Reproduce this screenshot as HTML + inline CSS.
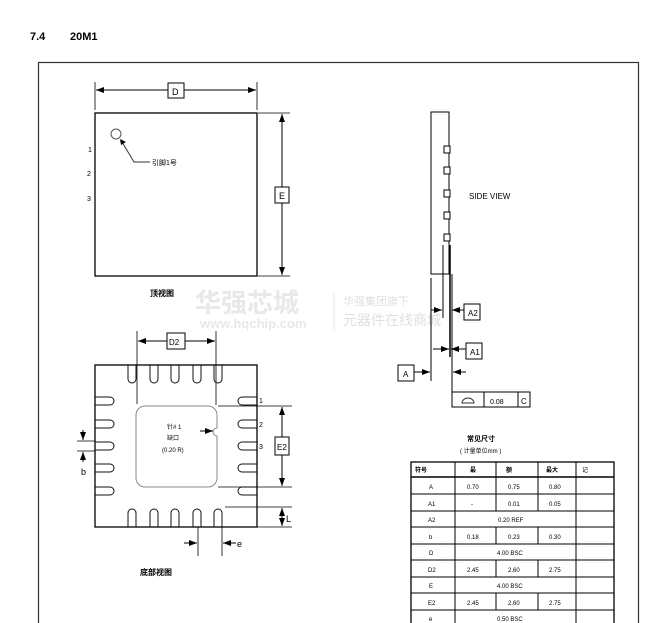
<!DOCTYPE html><html><head><meta charset="utf-8"><style>
body{margin:0;width:650px;height:623px;overflow:hidden;background:#fff;font-family:"Liberation Sans","Noto Sans CJK SC",sans-serif}
svg{position:absolute;left:0;top:0}
text{font-family:"Liberation Sans","Noto Sans CJK SC",sans-serif}
</style></head><body>
<svg width="650" height="623" viewBox="0 0 650 623">
<defs><marker id="a" markerWidth="8" markerHeight="6" refX="8" refY="3" orient="auto" markerUnits="userSpaceOnUse"><path d="M0,0L8,3L0,6z" fill="#000"/></marker></defs>
<text x="30" y="40" font-size="11" font-weight="bold">7.4</text>
<text x="70" y="40" font-size="11" font-weight="bold">20M1</text>
<rect x="38.5" y="62.5" width="600" height="580" fill="none" stroke="#333" stroke-width="1.2"/>
<text x="195" y="312" font-size="26" font-weight="bold" fill="#e8e8e8">华强芯城</text>
<text x="200" y="328" font-size="13" font-weight="bold" fill="#e8e8e8">www.hqchip.com</text>
<line x1="334" y1="293" x2="334" y2="330" stroke="#e4e4e4"/>
<text x="343" y="305" font-size="11" fill="#e0e0e0">华强集团旗下</text>
<text x="343" y="325" font-size="14" fill="#e0e0e0">元器件在线商城</text>
<g stroke="#000" fill="none" stroke-width="1">
<rect x="95" y="113" width="162" height="163" stroke-width="1.3"/>
<circle cx="116" cy="134" r="5" stroke="#555"/>
<path d="M150,162 L134,162 L122,142" stroke="#333"/>
<path d="M120,139 L126,142 L121,145 z" fill="#000" stroke="none"/>
<line x1="95" y1="82" x2="95" y2="110" stroke-width="0.8"/><line x1="257" y1="82" x2="257" y2="110" stroke-width="0.8"/>
<line x1="168" y1="90" x2="96" y2="90" marker-end="url(#a)"/><line x1="184" y1="90" x2="256" y2="90" marker-end="url(#a)"/>
<line x1="258" y1="113" x2="290" y2="113" stroke-width="0.8"/><line x1="258" y1="276" x2="290" y2="276" stroke-width="0.8"/>
<line x1="282" y1="187" x2="282" y2="114" marker-end="url(#a)"/><line x1="282" y1="203" x2="282" y2="275" marker-end="url(#a)"/>
<rect x="168" y="83" width="16" height="15" fill="#fff"/>
<rect x="275" y="187" width="14" height="16" fill="#fff"/>
<rect x="95" y="365" width="162" height="162" stroke-width="1.3"/>
<g stroke="#111">
<path d="M128,365 v14 a4,4 0 0 0 8,0 v-14"/><path d="M150,365 v14 a4,4 0 0 0 8,0 v-14"/><path d="M171,365 v14 a4,4 0 0 0 8,0 v-14"/><path d="M193,365 v14 a4,4 0 0 0 8,0 v-14"/><path d="M214,365 v14 a4,4 0 0 0 8,0 v-14"/>
<path d="M128,527 v-14 a4,4 0 0 1 8,0 v14"/><path d="M150,527 v-14 a4,4 0 0 1 8,0 v14"/><path d="M171,527 v-14 a4,4 0 0 1 8,0 v14"/><path d="M193,527 v-14 a4,4 0 0 1 8,0 v14"/><path d="M214,527 v-14 a4,4 0 0 1 8,0 v14"/>
<path d="M95,397 h15 a4,4 0 0 1 0,8 h-15"/><path d="M95,420 h15 a4,4 0 0 1 0,8 h-15"/><path d="M95,442 h15 a4,4 0 0 1 0,8 h-15"/><path d="M95,464 h15 a4,4 0 0 1 0,8 h-15"/><path d="M95,487 h15 a4,4 0 0 1 0,8 h-15"/>
<path d="M257,397 h-15 a4,4 0 0 0 0,8 h15"/><path d="M257,420 h-15 a4,4 0 0 0 0,8 h15"/><path d="M257,442 h-15 a4,4 0 0 0 0,8 h15"/><path d="M257,464 h-15 a4,4 0 0 0 0,8 h15"/><path d="M257,487 h-15 a4,4 0 0 0 0,8 h15"/>
</g>
<path d="M145,406 H208 A9,9 0 0 1 217,415 V428 A4,4 0 0 0 217,436 V478 A9,9 0 0 1 208,487 H145 A9,9 0 0 1 136,478 V415 A9,9 0 0 1 145,406 Z" stroke="#888"/>
<line x1="200" y1="431" x2="213" y2="431" marker-end="url(#a)"/>
<line x1="137" y1="331" x2="137" y2="404" stroke-width="0.8"/><line x1="216" y1="331" x2="216" y2="405" stroke-width="0.8"/>
<line x1="167" y1="341" x2="138" y2="341" marker-end="url(#a)"/><line x1="185" y1="341" x2="215" y2="341" marker-end="url(#a)"/>
<rect x="167" y="333" width="18" height="16" fill="#fff"/>
<line x1="218" y1="406" x2="292" y2="406" stroke-width="0.8"/><line x1="218" y1="487" x2="292" y2="487" stroke-width="0.8"/>
<line x1="282" y1="437" x2="282" y2="407" marker-end="url(#a)"/><line x1="282" y1="455" x2="282" y2="486" marker-end="url(#a)"/>
<rect x="275" y="437" width="14" height="18" fill="#fff"/>
<line x1="225" y1="507" x2="292" y2="507" stroke-width="0.8"/><line x1="257" y1="527" x2="292" y2="527" stroke-width="0.8"/>
<line x1="282" y1="517" x2="282" y2="508" marker-end="url(#a)"/><line x1="282" y1="517" x2="282" y2="526" marker-end="url(#a)"/>
<line x1="198" y1="527" x2="198" y2="556" stroke-width="0.8"/><line x1="222" y1="527" x2="222" y2="556" stroke-width="0.8"/>
<line x1="184" y1="543" x2="197" y2="543" marker-end="url(#a)"/><line x1="236" y1="543" x2="223" y2="543" marker-end="url(#a)"/>
<line x1="77" y1="441" x2="95" y2="441" stroke-width="0.8"/><line x1="77" y1="451" x2="95" y2="451" stroke-width="0.8"/>
<line x1="83" y1="430" x2="83" y2="440" marker-end="url(#a)"/><line x1="83" y1="462" x2="83" y2="452" marker-end="url(#a)"/>
<rect x="431" y="112" width="18" height="162"/>
<rect x="444" y="146" width="6" height="7" fill="#fff"/><rect x="444" y="167" width="6" height="7" fill="#fff"/><rect x="444" y="190" width="6" height="7" fill="#fff"/><rect x="444" y="212" width="6" height="7" fill="#fff"/><rect x="444" y="234" width="6" height="7" fill="#fff"/>
<line x1="431" y1="278" x2="431" y2="381"/>
<line x1="443" y1="245" x2="443" y2="318"/>
<line x1="450" y1="245" x2="450" y2="357" stroke-width="1.5"/>
<path d="M452,274 V407 H530"/>
<line x1="431" y1="310" x2="442" y2="310" marker-end="url(#a)"/><line x1="464" y1="310" x2="452" y2="310" marker-end="url(#a)"/>
<line x1="433" y1="349" x2="449" y2="349" marker-end="url(#a)"/><line x1="466" y1="349" x2="451" y2="349" marker-end="url(#a)"/>
<line x1="414" y1="372" x2="430" y2="372" marker-end="url(#a)"/><line x1="466" y1="372" x2="453" y2="372" marker-end="url(#a)"/>
<rect x="464" y="304" width="16" height="16" fill="#fff"/>
<rect x="466" y="343" width="16" height="16" fill="#fff"/>
<rect x="398" y="365" width="16" height="16" fill="#fff"/>
<rect x="452" y="392" width="78" height="15"/><line x1="484" y1="392" x2="484" y2="407"/><line x1="518" y1="392" x2="518" y2="407"/>
<path d="M462,403 a6,5 0 0 1 12,0 z" stroke="#333"/>
<rect x="411" y="462" width="203" height="170" stroke-width="1.3"/>
<line x1="411" y1="477" x2="614" y2="477" stroke-width="1.5"/>
<line x1="411" y1="494" x2="614" y2="494"/><line x1="411" y1="511" x2="614" y2="511"/><line x1="411" y1="527" x2="614" y2="527"/><line x1="411" y1="544" x2="614" y2="544"/><line x1="411" y1="560" x2="614" y2="560"/><line x1="411" y1="577" x2="614" y2="577"/><line x1="411" y1="593" x2="614" y2="593"/><line x1="411" y1="610" x2="614" y2="610"/>
<line x1="455" y1="462" x2="455" y2="632"/><line x1="576" y1="462" x2="576" y2="632"/>
<path d="M496,462V511M496,527V544M496,560V577M496,593V610M538,462V511M538,527V544M538,560V577M538,593V610"/>
</g>
<g font-size="7" fill="#000">
<text x="88" y="152">1</text><text x="87" y="176">2</text><text x="87" y="201">3</text>
<text x="152" y="165">引脚1号</text>
<text x="172" y="95" font-size="9">D</text>
<text x="279" y="199" font-size="9">E</text>
<text x="150" y="296" font-size="8" font-weight="bold">顶视图</text>
<text x="169" y="345" font-size="8">D2</text>
<text x="277" y="450" font-size="8">E2</text>
<text x="259" y="403">1</text><text x="259" y="427">2</text><text x="259" y="449">3</text>
<text x="167" y="429" font-size="6">针# 1</text><text x="167" y="440" font-size="6">缺口</text><text x="162" y="452" font-size="6">(0.20 R)</text>
<text x="81" y="475" font-size="9">b</text>
<text x="286" y="522" font-size="9">L</text>
<text x="237" y="547" font-size="9">e</text>
<text x="140" y="575" font-size="8" font-weight="bold">底部视图</text>
<text x="469" y="199" font-size="8">SIDE VIEW</text>
<text x="468" y="316" font-size="8">A2</text>
<text x="470" y="355" font-size="8">A1</text>
<text x="403" y="377" font-size="8">A</text>
<text x="490" y="404" font-size="7">0.08</text><text x="521" y="404" font-size="8">C</text>
<text x="467" y="441" font-size="7" font-weight="bold">常见尺寸</text>
<text x="460" y="453" font-size="6">( 计量单位mm )</text>
<g font-size="6">
<text x="415" y="472" font-weight="bold">符号</text><text x="470" y="472" font-weight="bold">最</text><text x="506" y="472" font-weight="bold">额</text><text x="546" y="472" font-weight="bold">最大</text><text x="582" y="472">记</text>
<text x="429" y="489">A</text><text x="467" y="489">0.70</text><text x="508" y="489">0.75</text><text x="549" y="489">0.80</text>
<text x="428" y="506">A1</text><text x="471" y="506">-</text><text x="508" y="506">0.01</text><text x="549" y="506">0.05</text>
<text x="428" y="522">A2</text><text x="498" y="522">0.20 REF</text>
<text x="429" y="539">b</text><text x="467" y="539">0.18</text><text x="508" y="539">0.23</text><text x="549" y="539">0.30</text>
<text x="429" y="555">D</text><text x="497" y="555">4.00 BSC</text>
<text x="428" y="572">D2</text><text x="467" y="572">2.45</text><text x="508" y="572">2.60</text><text x="549" y="572">2.75</text>
<text x="429" y="588">E</text><text x="497" y="588">4.00 BSC</text>
<text x="428" y="605">E2</text><text x="467" y="605">2.45</text><text x="508" y="605">2.60</text><text x="549" y="605">2.75</text>
<text x="429" y="621">e</text><text x="497" y="621">0.50 BSC</text>
</g>
</g>
</svg>
</body></html>
